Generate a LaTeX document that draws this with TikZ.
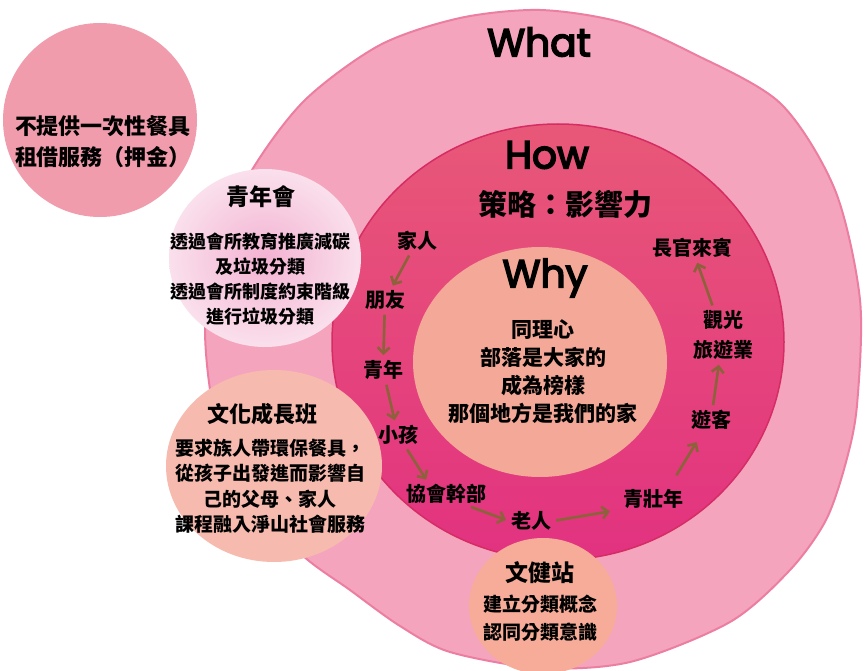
\documentclass[tikz,border=0pt]{standalone}
\usepackage{fontspec}
\setmainfont{Noto Sans CJK TC}
\newfontfamily\titlefont{Poppins}[UprightFeatures={FakeBold=4}]
\usetikzlibrary{arrows.meta}

\definecolor{whatpink}{RGB}{245,164,190}
\definecolor{whatrim}{RGB}{236,126,162}
\definecolor{howtop}{RGB}{232,88,120}
\definecolor{howbottom}{RGB}{226,50,128}
\definecolor{howrim}{RGB}{214,44,100}
\definecolor{whypeach}{RGB}{243,168,152}
\definecolor{blobpink}{RGB}{241,156,172}
\definecolor{youthpink}{RGB}{243,178,210}
\definecolor{youthrim}{RGB}{250,224,236}
\definecolor{classpeach}{RGB}{246,186,174}
\definecolor{stationpeach}{RGB}{246,172,152}
\definecolor{arrowbrown}{RGB}{139,98,58}

\tikzset{
  headword/.style={font=\titlefont\fontsize{39}{39}\selectfont},
  ringtext/.style={font=\bfseries\fontsize{20}{26}\selectfont, align=center, inner sep=2pt},
  flow/.style={draw=arrowbrown, line width=2.6pt, -{Straight Barb[length=6pt,width=12pt]}, shorten <=3pt, shorten >=3pt},
}

\begin{document}
\begin{tikzpicture}[x=1pt,y=-1pt]
		%%%%% START %%%%%
		\useasboundingbox (0,0) rectangle (865,671);
		\clip (0,0) rectangle (865,671);
		\fill[white] (0,0) rectangle (865,671);
		
		% rings
		\fill[whatpink, draw=whatrim, line width=2pt] plot[smooth cycle] coordinates {(540,10) (620,22) (690,52) (780,103) (835,190) (860,300) (857,405) (846,462) (826,520) (790,570) (730,622) (630,662) (540,668) (450,652) (400,626) (350,590) (300,553) (250,492) (216,420) (205,330) (216,248) (252,170) (305,100) (380,45) (460,18)};
		\shade[top color=howtop, bottom color=howbottom] (558,342) ellipse [x radius=226, y radius=218];
		\draw[howrim, line width=1.5pt] (558,342) ellipse [x radius=226, y radius=218];
		\fill[whypeach] (540,362) ellipse [x radius=127, y radius=115];
		
		% side blobs
		\fill[blobpink] (100,120) circle (97);
		\shade[inner color=youthpink, outer color=youthrim] (265,258) ellipse [x radius=96, y radius=89];
		\fill[classpeach] (274,466) ellipse [x radius=108, y radius=96];
		\fill[stationpeach] (543,606) ellipse [x radius=74, y radius=68];
		
		\node[headword] (what) at (539,42) {What};
		\node[headword] (how) at (547,155) {How};
		\node[ringtext, font=\bfseries\fontsize{29}{32}\selectfont] (strategy) at (565,204) {策略：影響力};
		\node[headword] (why) at (545,278) {Why};
		\node[ringtext, font=\bfseries\fontsize{21}{28}\selectfont] (reason) at (543,372) {同理心\\部落是大家的\\成為榜樣\\那個地方是我們的家};
		
		% influence chain
		\node[ringtext] (family) at (417,241) {家人};
		\node[ringtext] (friend) at (385,300) {朋友};
		\node[ringtext] (youth) at (383,370) {青年};
		\node[ringtext] (child) at (398,435) {小孩};
		\node[ringtext] (cadre) at (446,494) {協會幹部};
		\node[ringtext] (elder) at (531,521) {老人};
		\node[ringtext] (adult) at (653,499) {青壯年};
		\node[ringtext] (tourist) at (711,420) {遊客};
		\node[ringtext, font=\bfseries\fontsize{20}{30}\selectfont] (tourism) at (723,335) {觀光\\旅遊業};
		\node[ringtext] (official) at (692,248) {長官來賓};
		
		\draw[flow] (family) -- (friend);
		\draw[flow] (friend) -- (youth);
		\draw[flow] (youth) -- (child);
		\draw[flow] (child) -- ([xshift=24pt]cadre.north west);
		\draw[flow] ([xshift=-20pt]cadre.south east) -- (elder.west);
		\draw[flow] (elder.east) -- ([xshift=-8pt]adult.south west);
		\draw[flow, shorten <=14pt, shorten >=12pt] ([xshift=-16pt]adult.north east) -- ([xshift=14pt]tourist.south west);
		\draw[flow] (tourist) -- (tourism);
		\draw[flow] (tourism) -- (official);
		
		% side notes
		\node[ringtext, font=\bfseries\fontsize{22}{31}\selectfont] (nodisposable) at (103,142) {不提供一次性餐具\\租借服務（押金）};
		\node[ringtext, font=\bfseries\fontsize{23}{26}\selectfont] (youthclub) at (261,197) {青年會};
		\node[ringtext, font=\bfseries\fontsize{18}{25}\selectfont] (youthplan) at (260,279) {透過會所教育推廣減碳\\及垃圾分類\\透過會所制度約束階級\\進行垃圾分類};
		\node[ringtext, font=\bfseries\fontsize{22}{26}\selectfont] (culture) at (262,414) {文化成長班};
		\node[ringtext, font=\bfseries\fontsize{19}{25.5}\selectfont] (cultureplan) at (270,486) {要求族人帶環保餐具，\\從孩子出發進而影響自\\己的父母、家人\\課程融入淨山社會服務};
		\node[ringtext, font=\bfseries\fontsize{23}{26}\selectfont] (station) at (540,573) {文健站};
		\node[ringtext, font=\bfseries\fontsize{19}{28}\selectfont] (stationplan) at (540,618) {建立分類概念\\認同分類意識};
		
		%%%%% END %%%%%
\end{tikzpicture}
\end{document}
